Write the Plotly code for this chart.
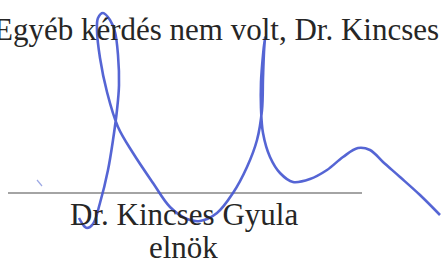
import plotly.graph_objects as go

# Signature stroke (pixel coordinates of the scanned page, y downward)
sig_x = [79, 84, 87, 93, 100, 108, 113, 117, 119, 118, 115, 110, 103, 98, 97, 100, 107, 118,
         133, 153, 170, 187, 200, 217, 233, 247, 257, 262, 263, 264, 265, 263, 261, 261, 263,
         270, 280, 293, 310, 327, 343, 358, 370, 383, 400, 420, 440]
sig_y = [218, 226, 228, 224, 203, 170, 140, 110, 85, 55, 32, 20, 13, 18, 30, 58, 92, 127,
         153, 183, 207, 219, 221, 213, 193, 167, 140, 110, 78, 52, 37, 55, 82, 108, 133,
         157, 173, 182, 179, 170, 157, 148, 150, 162, 177, 195, 215]

tick_x = [37, 42]
tick_y = [180, 186]

line_x = [8, 362]
line_y = [193, 193]

texts = ["Egyéb kérdés nem volt, Dr. Kincses", "Dr. Kincses Gyula", "elnök"]
text_x = [441, 184, 183]
text_y = [38, 223, 256]
text_anchor = ["right", "center", "center"]

fig = go.Figure()

fig.add_trace(go.Scatter(x=line_x, y=line_y, mode="lines",
                         line=dict(color="#4a4a4a", width=1.2), hoverinfo="skip"))

for t, x, y, a in zip(texts, text_x, text_y, text_anchor):
    fig.add_annotation(x=x, y=y, text=t, showarrow=False, xanchor=a, yanchor="middle",
                       yshift=9, font=dict(family="Liberation Serif", size=31, color="#262626"))

fig.add_trace(go.Scatter(x=sig_x, y=sig_y, mode="lines",
                         line=dict(color="rgba(70,88,208,0.92)", width=2.6, shape="spline", smoothing=1.0),
                         hoverinfo="skip"))
fig.add_trace(go.Scatter(x=tick_x, y=tick_y, mode="lines",
                         line=dict(color="rgba(90,110,210,0.6)", width=1.2), hoverinfo="skip"))

fig.update_layout(width=441, height=260, margin=dict(l=0, r=0, t=0, b=0),
                  paper_bgcolor="white", plot_bgcolor="white", showlegend=False)
fig.update_xaxes(range=[0, 441], visible=False, fixedrange=True)
fig.update_yaxes(range=[260, 0], visible=False, fixedrange=True)

fig.write_html("out.html", config={"displayModeBar": False},
               post_script="document.body.style.margin='0';document.body.style.overflow='hidden';")
